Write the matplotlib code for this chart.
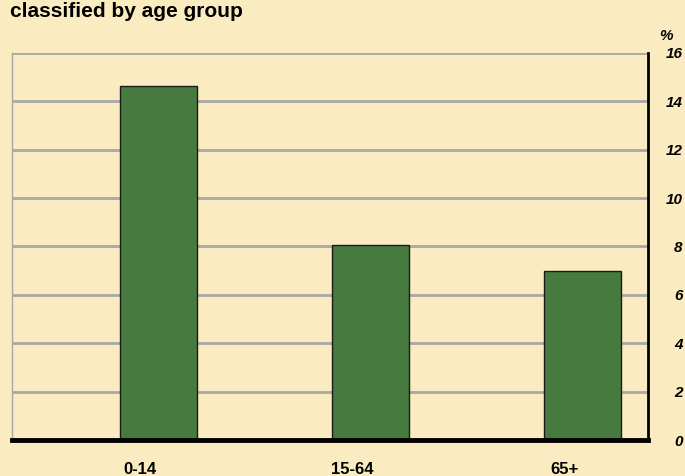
import numpy as np
import matplotlib.pyplot as plt

# age groups and their share (%)
groups = ['0-14', '15-64', '65+']
values = [14.63, 8.06, 6.99]
yticks = [0, 2, 4, 6, 8, 10, 12, 14, 16]

bg = '#faebc0'
green = '#467a3f'

plt.rcParams['font.family'] = ['Liberation Sans', 'DejaVu Sans']

fig = plt.figure(figsize=(6.85, 4.76), dpi=100, facecolor=bg)
ax = fig.add_axes([0.0175, 0.0756, 0.9285, 0.8131], facecolor=bg)

x = np.arange(len(groups))
ax.bar(x, values, width=0.363, color=green, edgecolor='#1a1a1a', linewidth=1, zorder=3)

ax.set_xlim(-0.691, 2.311)
ax.set_ylim(0, 16)

ax.yaxis.tick_right()
ax.set_yticks(yticks)
ax.set_yticklabels([str(t) for t in yticks], fontsize=11, fontweight='bold',
                   fontstyle='italic', ha='right')
ax.tick_params(axis='y', length=0, pad=25)
ax.grid(axis='y', color='#a8a8a8', linewidth=2, zorder=1)

ax.set_xticks(x - 0.085)
ax.set_xticklabels(groups, fontsize=12, fontweight='bold')
ax.tick_params(axis='x', length=0, pad=16)

ax.spines['top'].set_visible(False)
ax.spines['left'].set_color('#a8a8a8')
ax.spines['left'].set_linewidth(1)
ax.spines['right'].set_color('black')
ax.spines['right'].set_linewidth(2)
ax.spines['bottom'].set_color('black')
ax.spines['bottom'].set_linewidth(3.5)
ax.spines['bottom'].set_zorder(4)

fig.text(0.0146, 1.0 - 17 / 476, 'classified by age group', fontsize=15,
         fontweight='bold', va='baseline', ha='left')
fig.text(0.972, 1.0 - 36 / 476, '%', fontsize=11, fontweight='bold',
         fontstyle='italic', va='center', ha='center')

plt.savefig('out.png', dpi=100, facecolor=bg)
